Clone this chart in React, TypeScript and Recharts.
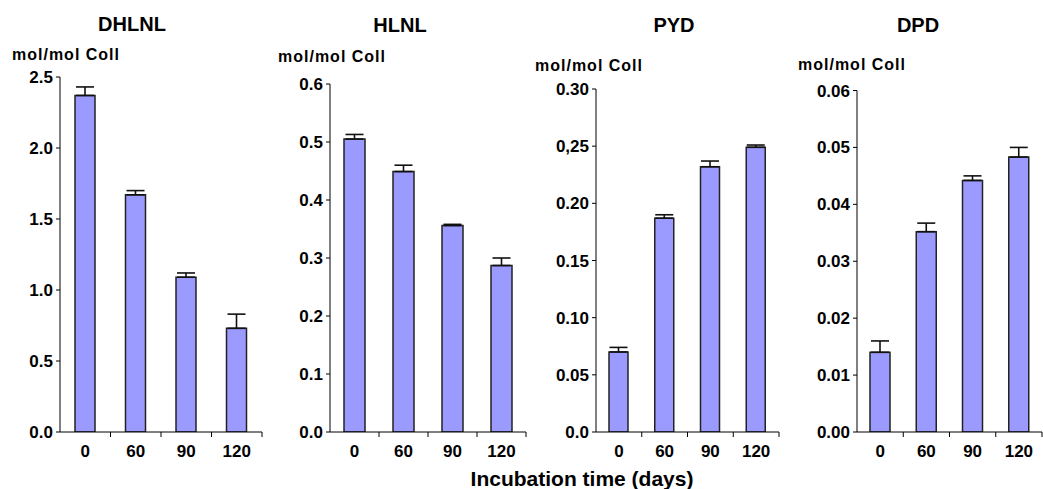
import React from 'react';
import { BarChart, Bar, XAxis, YAxis, ErrorBar } from 'recharts';

const FONT = "'Liberation Sans', Arial, Helvetica, sans-serif";

const categories = ['0', '60', '90', '120'];

const dhlnlValues = [2.37, 1.67, 1.09, 0.73];
const dhlnlErrors = [0.06, 0.03, 0.03, 0.1];
const hlnlValues = [0.505, 0.449, 0.356, 0.287];
const hlnlErrors = [0.008, 0.011, 0.002, 0.013];
const pydValues = [0.07, 0.187, 0.232, 0.249];
const pydErrors = [0.004, 0.003, 0.005, 0.002];
const dpdValues = [0.014, 0.0352, 0.0442, 0.0483];
const dpdErrors = [0.002, 0.0015, 0.0008, 0.0017];

const dhlnlTicks = [0, 0.5, 1, 1.5, 2, 2.5];
const dhlnlTickLabels = ['0.0', '0.5', '1.0', '1.5', '2.0', '2.5'];
const hlnlTicks = [0, 0.1, 0.2, 0.3, 0.4, 0.5, 0.6];
const hlnlTickLabels = ['0.0', '0.1', '0.2', '0.3', '0.4', '0.5', '0.6'];
const pydTicks = [0, 0.05, 0.1, 0.15, 0.2, 0.25, 0.3];
const pydTickLabels = ['0.0', '0.05', '0.10', '0.15', '0.20', '0,25', '0.30'];
const dpdTicks = [0, 0.01, 0.02, 0.03, 0.04, 0.05, 0.06];
const dpdTickLabels = ['0.00', '0.01', '0.02', '0.03', '0.04', '0.05', '0.06'];

const titles = ['DHLNL', 'HLNL', 'PYD', 'DPD'];
const unitLabel = 'mol/mol Coll';
const xAxisTitle = 'Incubation time (days)';

const CatTick = (props: any) => {
  const { x, y, payload, index, visibleTicksCount } = props;
  const off = payload && payload.offset ? payload.offset : 0;
  return (
    <g>
      {index > 0 && <line x1={x - off} x2={x - off} y1={y} y2={y + 5} stroke="#000" strokeWidth={1} />}
      {index === visibleTicksCount - 1 && (
        <line x1={x + off} x2={x + off} y1={y} y2={y + 5} stroke="#000" strokeWidth={1} />
      )}
      <text x={x} y={y + 25} textAnchor="middle" fill="#000" fontSize={17} fontWeight={700} fontFamily={FONT}>
        {payload.value}
      </text>
    </g>
  );
};

type PanelProps = {
  left: number;
  width: number;
  top: number;
  values: number[];
  errors: number[];
  ticks: number[];
  tickLabels: string[];
  barSize: number;
};

function Panel({ left, width, top, values, errors, ticks, tickLabels, barSize }: PanelProps) {
  const data = categories.map((c, i) => ({ cat: c, value: values[i], err: [0, errors[i]] }));
  return (
    <div style={{ position: 'absolute', left, top: 0 }}>
      <BarChart
        width={width}
        height={489}
        data={data}
        margin={{ top, right: 2, bottom: 27, left: 0 }}
        barCategoryGap={0}
      >
        <XAxis
          dataKey="cat"
          height={30}
          tickLine={false}
          tickSize={0}
          tickMargin={0}
          interval={0}
          axisLine={{ stroke: '#000', strokeWidth: 1 }}
          tick={<CatTick />}
        />
        <YAxis
          width={60}
          type="number"
          domain={[ticks[0], ticks[ticks.length - 1]]}
          ticks={ticks}
          interval={0}
          allowDataOverflow
          tickSize={4}
          tickMargin={3}
          axisLine={{ stroke: '#000', strokeWidth: 1 }}
          tickLine={{ stroke: '#000', strokeWidth: 1 }}
          tickFormatter={(v: number) => tickLabels[ticks.indexOf(v)]}
          tick={{ fill: '#000', fontSize: 17, fontWeight: 700, fontFamily: FONT }}
        />
        <Bar
          dataKey="value"
          fill="#9b9bff"
          stroke="#222"
          strokeWidth={1.5}
          barSize={barSize}
          isAnimationActive={false}
        >
          <ErrorBar dataKey="err" direction="y" width={9} stroke="#111" strokeWidth={1.6} isAnimationActive={false} />
        </Bar>
      </BarChart>
    </div>
  );
}

export default function App() {
  return (
    <div
      style={{
        position: 'absolute',
        left: 0,
        top: 0,
        width: 1043,
        height: 489,
        background: '#fff',
        overflow: 'hidden',
        fontFamily: FONT,
      }}
    >
      <Panel left={0} width={264} top={77} values={dhlnlValues} errors={dhlnlErrors} ticks={dhlnlTicks} tickLabels={dhlnlTickLabels} barSize={20} />
      <Panel left={270} width={258} top={84} values={hlnlValues} errors={hlnlErrors} ticks={hlnlTicks} tickLabels={hlnlTickLabels} barSize={21} />
      <Panel left={536} width={245} top={89} values={pydValues} errors={pydErrors} ticks={pydTicks} tickLabels={pydTickLabels} barSize={19} />
      <Panel left={797} width={247} top={90.5} values={dpdValues} errors={dpdErrors} ticks={dpdTicks} tickLabels={dpdTickLabels} barSize={20} />
      <svg width={1043} height={489} style={{ position: 'absolute', left: 0, top: 0, pointerEvents: 'none' }}>
        <g fontFamily={FONT} fontWeight={700} fill="#000">
          <text x={132} y={31} fontSize={20} textAnchor="middle">{titles[0]}</text>
          <text x={400} y={32} fontSize={20} textAnchor="middle">{titles[1]}</text>
          <text x={674} y={32} fontSize={20} textAnchor="middle">{titles[2]}</text>
          <text x={918} y={32} fontSize={20} textAnchor="middle">{titles[3]}</text>
          <text x={12} y={60} fontSize={16} letterSpacing={1}>{unitLabel}</text>
          <text x={278} y={62} fontSize={16} letterSpacing={1}>{unitLabel}</text>
          <text x={535} y={71} fontSize={16} letterSpacing={1}>{unitLabel}</text>
          <text x={798} y={70} fontSize={16} letterSpacing={1}>{unitLabel}</text>
          <text x={582} y={486} fontSize={21} textAnchor="middle">{xAxisTitle}</text>
        </g>
      </svg>
    </div>
  );
}
